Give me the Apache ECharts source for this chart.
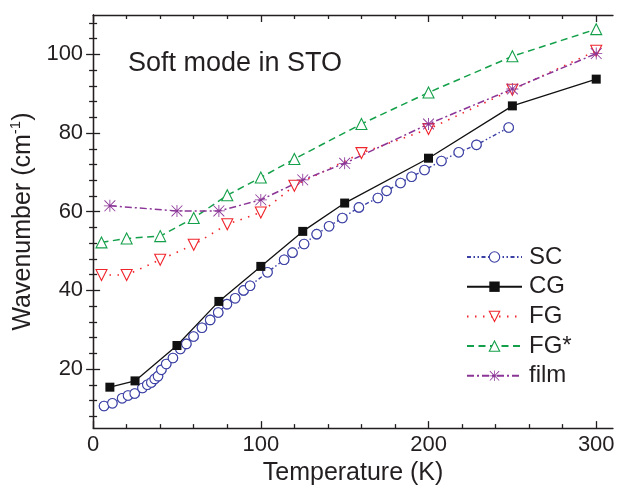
<!DOCTYPE html>
<html><head><meta charset="utf-8">
<script src="https://cdn.jsdelivr.net/npm/echarts@6/dist/echarts.min.js"></script>
<style>html,body{margin:0;padding:0;background:#fff}#c{width:621px;height:491px}</style>
</head><body><div id="c"></div>
<script>
// ---- data ----
const scT = [6.5, 11.5, 17.3, 20.8, 24.8, 29.4, 32.3, 34.7, 36.7, 38.7, 40.7, 43.6, 47.6, 52, 55.6, 59.9, 64.9, 69.8, 74.6, 79.8, 84.7, 89.7, 93.6, 104, 113.9, 118.9, 125.8, 133.3, 140.7, 148.6, 158.5, 169.8, 175, 183.3, 189.9, 197.6, 207.7, 218, 228.6, 247.8];
const scV = [10.6, 11.3, 12.6, 13.3, 13.8, 15.2, 16.0, 16.6, 17.5, 18.2, 19.8, 21.3, 22.8, 25.1, 26.4, 28.3, 30.5, 32.5, 34.4, 36.5, 38.0, 40.0, 41.2, 44.6, 47.8, 49.6, 51.8, 54.3, 56.3, 58.4, 61.1, 63.5, 65.3, 67.3, 68.9, 70.6, 72.9, 75.1, 77.0, 81.4];
const cgT = [10, 25, 50, 75, 100, 125, 150, 200, 250, 300];
const cgV = [15.4, 17.0, 26.0, 37.2, 46.1, 55.0, 62.2, 73.6, 86.9, 93.7];
const fgT = [5, 20, 40, 60, 80, 100, 120, 160, 200, 250, 300];
const fgV = [43.9, 43.9, 47.8, 51.6, 56.8, 59.8, 66.6, 74.9, 81.0, 91.0, 100.9];
const fgsT = [5, 20, 40, 60, 80, 100, 120, 160, 200, 250, 300];
const fgsV = [52.2, 53.2, 53.8, 58.4, 64.2, 68.7, 73.4, 82.3, 90.3, 99.5, 106.4];
const filmT = [10, 50, 75, 100, 125, 150, 200, 250, 300];
const filmV = [61.5, 60.2, 60.2, 63.0, 68.1, 72.3, 82.3, 91.2, 100.2];
const seriesNames = ['SC', 'CG', 'FG', 'FG*', 'film'];
const xTickLabels = [0, 100, 200, 300];
const xMinorTicks = [20, 40, 60, 80, 120, 140, 160, 180, 220, 240, 260, 280];
const yTickLabels = [20, 40, 60, 80, 100];
const yMinorTicks = [8, 12, 16, 24, 28, 32, 36, 44, 48, 52, 56, 64, 68, 72, 76, 84, 88, 92, 96, 104, 108];

// ---- chart ----
const FONT = '"Liberation Sans", Arial, Helvetica, sans-serif';
const AX = '#231f20';
const pairs = (t, v) => t.map((x, i) => [x, v[i]]);
const X0 = 0, X1 = 310, Y0 = 5, Y1 = 110;
const lineSt = { color: AX, width: 1.3 };

function xAxisDef(pos, ticks, len, opts) {
  return Object.assign({
    type: 'value', min: X0, max: X1, position: pos,
    axisLine: { show: false, lineStyle: lineSt },
    axisTick: { show: true, inside: true, length: len, customValues: ticks, lineStyle: lineSt },
    axisLabel: { show: false },
    splitLine: { show: false }
  }, opts || {});
}
function yAxisDef(pos, ticks, len, opts) {
  return Object.assign({
    type: 'value', min: Y0, max: Y1, position: pos,
    axisLine: { show: false, lineStyle: lineSt },
    axisTick: { show: true, inside: true, length: len, customValues: ticks, lineStyle: lineSt },
    axisLabel: { show: false },
    splitLine: { show: false }
  }, opts || {});
}

const starPath = 'path://M0,9.3L20,9.3L20,10.7L0,10.7Z M9.3,0L10.7,0L10.7,20L9.3,20Z M1.5,0.5L19.5,18.5L18.5,19.5L0.5,1.5Z M18.5,0.5L19.5,1.5L1.5,19.5L0.5,18.5Z';
const BLUE = '#3b40a4', RED = '#f0242b', GREEN = '#14a04a', PURPLE = '#8b3597';

const chart = echarts.init(document.getElementById('c'), null, { renderer: 'canvas' });
chart.setOption({
  animation: false,
  backgroundColor: '#fff',
  textStyle: { fontFamily: FONT },
  grid: { left: 92, top: 15, right: 8, bottom: 61, containLabel: false },
  xAxis: [
    xAxisDef('bottom', xTickLabels, 7, {
      axisLine: { show: true, lineStyle: lineSt },
      axisLabel: { show: true, customValues: xTickLabels, fontSize: 22, color: AX, margin: 6, fontFamily: FONT },
      name: 'Temperature (K)', nameLocation: 'middle', nameGap: 16,
      nameTextStyle: { fontSize: 25, color: AX, fontFamily: FONT }
    }),
    xAxisDef('bottom', xMinorTicks, 4),
    xAxisDef('top', xTickLabels, 7, { axisLine: { show: true, lineStyle: lineSt } }),
    xAxisDef('top', xMinorTicks, 4)
  ],
  yAxis: [
    yAxisDef('left', yTickLabels, 7, {
      axisLine: { show: true, lineStyle: lineSt },
      axisLabel: { show: true, customValues: yTickLabels, fontSize: 22, color: AX, margin: 10, fontFamily: FONT },
      name: '{a|Wavenumber (cm}{s|-1}{a|)}', nameLocation: 'middle', nameGap: 40, nameRotate: 90,
      nameTextStyle: {
        color: AX, fontFamily: FONT,
        rich: {
          a: { fontSize: 25, color: AX, fontFamily: FONT, lineHeight: 30 },
          s: { fontSize: 15, color: AX, fontFamily: FONT, verticalAlign: 'top', lineHeight: 18 }
        }
      }
    }),
    yAxisDef('left', yMinorTicks, 4),
    yAxisDef('right', yTickLabels, 7, { axisLine: { show: true, lineStyle: lineSt } }),
    yAxisDef('right', yMinorTicks, 4)
  ],
  legend: {
    orient: 'vertical', left: 461, top: 240,
    itemWidth: 55, itemHeight: 13, itemGap: 5.7,
    itemStyle: { borderWidth: 1.1 },
    textStyle: { fontSize: 24, color: AX, fontFamily: FONT, lineHeight: 24, padding: [0, 0, 0, 2] },
    data: seriesNames
  },
  graphic: [{
    type: 'text', left: 128, top: 50,
    style: { text: 'Soft mode in STO', font: '27px ' + FONT, fill: AX }
  }],
  series: [
    {
      name: seriesNames[0], type: 'line', data: pairs(scT, scV),
      symbol: 'circle', symbolSize: 9.5,
      itemStyle: { color: '#fff', borderColor: BLUE, borderWidth: 1.1 },
      lineStyle: { color: BLUE, width: 1.4, type: [4, 2.5, 1.5, 2.5, 1.5, 2.5] }
    },
    {
      name: 'SC outline', type: 'scatter', data: pairs(scT, scV),
      symbol: 'circle', symbolSize: 9.5, silent: true,
      itemStyle: { color: 'rgba(255,255,255,0)', borderColor: BLUE, borderWidth: 1.1 }
    },
    {
      name: seriesNames[1], type: 'line', data: pairs(cgT, cgV),
      symbol: 'rect', symbolSize: 9,
      itemStyle: { color: '#111', borderWidth: 0 },
      lineStyle: { color: '#111', width: 1.3, type: 'solid' }
    },
    {
      name: seriesNames[2], type: 'line', data: pairs(fgT, fgV),
      symbol: 'triangle', symbolSize: 11, symbolRotate: 180,
      itemStyle: { color: '#fff', borderColor: RED, borderWidth: 1.1 },
      lineStyle: { color: RED, width: 1.6, type: [1.5, 6.5] }
    },
    {
      name: seriesNames[3], type: 'line', data: pairs(fgsT, fgsV),
      symbol: 'triangle', symbolSize: 11,
      itemStyle: { color: '#fff', borderColor: GREEN, borderWidth: 1.1 },
      lineStyle: { color: GREEN, width: 1.5, type: [7, 4.5] }
    },
    {
      name: seriesNames[4], type: 'line', data: pairs(filmT, filmV),
      symbol: starPath, symbolSize: 12,
      itemStyle: { color: PURPLE, borderWidth: 0 },
      lineStyle: { color: PURPLE, width: 1.5, type: [7, 3, 2, 3] }
    }
  ]
});
</script>
</body></html>
